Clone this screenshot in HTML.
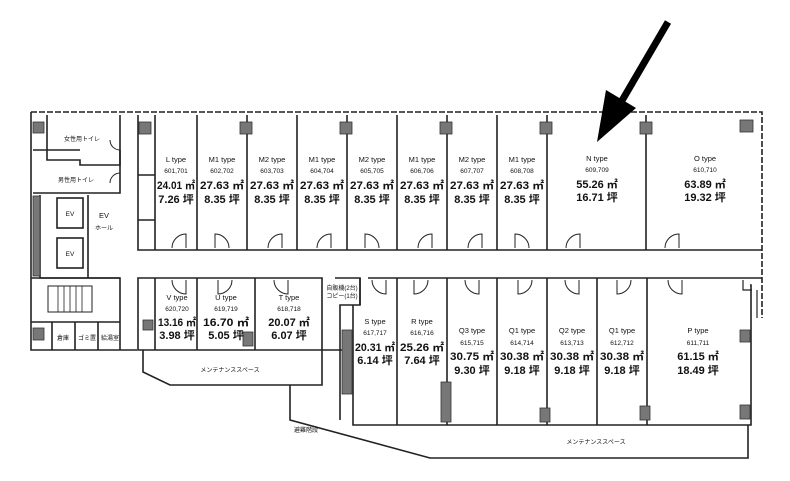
<!DOCTYPE html>
<html><head><meta charset="utf-8"><style>
html,body{margin:0;padding:0;background:#fff;width:790px;height:481px;overflow:hidden}
svg text{font-family:"Liberation Sans","Noto Sans CJK JP",sans-serif;fill:#111;text-anchor:middle}
.t{font-size:7.5px}.n{font-size:6.5px}.a{font-size:11px;font-weight:bold}.s{font-size:6px}
</style></head><body>
<svg width="790" height="481" viewBox="0 0 790 481" xmlns="http://www.w3.org/2000/svg">
<g fill="none" stroke="#222" stroke-width="1.6">
<path d="M31 112 H762 V318" stroke-dasharray="6 2"/>
<path d="M31 112 V350 H137"/>
<path d="M47 115 V160 H80 V165 H120 V115"/>
<path d="M33 150 H80 M33 193 H120 V150"/>
<path d="M40 195 V278 H120 M88 195 V278"/>
<rect x="57" y="198" width="26" height="30"/><rect x="57" y="238" width="26" height="30"/>
<path d="M31 278 H120 V350 M31 322 H120 M52 322 V350 M75 322 V350 M98 322 V350"/>
<rect x="48" y="286" width="44" height="26" stroke-width="1"/>
<path d="M58 286 V312 M64 286 V312 M70 286 V312 M76 286 V312 M82 286 V312" stroke-width="0.8"/>
<path d="M138 115 V250 H762"/>
<path d="M155 115 V250 M197 115 V250 M247 115 V250 M297 115 V250 M347 115 V250 M397 115 V250 M447 115 V250 M497 115 V250 M547 115 V250 M646 115 V250"/>
<path d="M138 175 H155 M138 220 H155"/>
<path d="M138 278 H322 V350 H138 Z"/>
<path d="M155 278 V350 M197 278 V350 M255 278 V350"/>
<path d="M143 350 V372 L170 385 H322 V350"/>
<path d="M322 350 H343 V385"/>
<path d="M290 385 V420 L430 458 H748 V425"/>
<path d="M335 278 H360 V305 H340 V420"/>
<path d="M368 278 H762 M360 278 V305 M353 305 V425 H751 V285 H750"/>
<path d="M397 278 V425 M447 278 V425 M497 278 V425 M547 278 V425 M597 278 V425 M647 278 V425"/>
<path d="M743 280 V290 H752 M757 290 V318" stroke-width="1.2"/>
</g>
<g fill="#777" stroke="#333" stroke-width="0.8">
<rect x="33" y="122" width="11" height="11"/><rect x="139" y="122" width="12" height="12"/>
<rect x="240" y="122" width="12" height="12"/><rect x="340" y="122" width="12" height="12"/>
<rect x="440" y="122" width="12" height="12"/><rect x="540" y="122" width="12" height="12"/>
<rect x="640" y="122" width="12" height="12"/><rect x="740" y="120" width="13" height="12"/>
<rect x="33" y="196" width="7" height="80"/><rect x="33" y="328" width="11" height="12"/>
<rect x="143" y="320" width="10" height="10"/><rect x="243" y="332" width="10" height="14"/>
<rect x="342" y="330" width="10" height="64"/><rect x="441" y="382" width="10" height="40"/>
<rect x="540" y="408" width="10" height="14"/><rect x="640" y="406" width="10" height="14"/>
<rect x="740" y="330" width="10" height="12"/><rect x="740" y="405" width="10" height="14"/>
</g>
<g fill="none" stroke="#222" stroke-width="1">
<path d="M172 248 A14 14 0 0 1 186 234 V248"/><path d="M215 248 V234 A14 14 0 0 1 229 248"/>
<path d="M268 248 A14 14 0 0 1 282 234 V248"/><path d="M317 248 A14 14 0 0 1 331 234 V248"/>
<path d="M365 248 V234 A14 14 0 0 1 379 248"/><path d="M418 248 A14 14 0 0 1 432 234 V248"/>
<path d="M468 248 A14 14 0 0 1 482 234 V248"/><path d="M515 248 V234 A14 14 0 0 1 529 248"/>
<path d="M566 248 A14 14 0 0 1 580 234 V248"/><path d="M665 248 A14 14 0 0 1 679 234 V248"/>
<path d="M172 280 A14 14 0 0 0 186 294 V280"/><path d="M218 280 V294 A14 14 0 0 0 232 280"/>
<path d="M274 280 A14 14 0 0 0 288 294 V280"/><path d="M372 280 A14 14 0 0 0 386 294 V280"/>
<path d="M414 280 V294 A14 14 0 0 0 428 280"/><path d="M465 280 A14 14 0 0 0 479 294 V280"/>
<path d="M518 280 V294 A14 14 0 0 0 532 280"/><path d="M565 280 A14 14 0 0 0 579 294 V280"/>
<path d="M617 280 V294 A14 14 0 0 0 631 280"/><path d="M668 280 A14 14 0 0 0 682 294 V280"/>
<path d="M110 140 A10 10 0 0 0 120 150 M110 183 A10 10 0 0 1 120 173"/>
</g>
<path d="M668 22 L620 104" stroke="#000" stroke-width="7"/>
<polygon points="597,142 606,90 636,108" fill="#000"/>
<g>
<text class="s" x="82" y="141">女性用トイレ</text><text class="s" x="76" y="182">男性用トイレ</text>
<text class="n" x="70" y="216">EV</text><text class="n" x="70" y="256">EV</text>
<text class="t" x="104" y="218">EV</text><text class="s" x="104" y="230">ホール</text>
<text class="s" x="63" y="340">倉庫</text><text class="s" x="87" y="340">ゴミ置</text><text class="s" x="110" y="340">給湯室</text>
<text class="s" x="230" y="372">メンテナンススペース</text><text class="s" x="596" y="444">メンテナンススペース</text>
<text class="s" x="342" y="290">自販機(2台)</text><text class="s" x="342" y="298">コピー(1台)</text>
<text class="s" x="306" y="432">避難階段</text>
</g>
<g>
<text class="t" x="176" y="162">L type</text><text class="n" x="176" y="173">601,701</text><text class="a" x="176" y="189" textLength="38" lengthAdjust="spacingAndGlyphs">24.01 ㎡</text><text class="a" x="176" y="203">7.26 坪</text>
<text class="t" x="222" y="162">M1 type</text><text class="n" x="222" y="173">602,702</text><text class="a" x="222" y="189" textLength="44" lengthAdjust="spacingAndGlyphs">27.63 ㎡</text><text class="a" x="222" y="203">8.35 坪</text>
<text class="t" x="272" y="162">M2 type</text><text class="n" x="272" y="173">603,703</text><text class="a" x="272" y="189" textLength="44" lengthAdjust="spacingAndGlyphs">27.63 ㎡</text><text class="a" x="272" y="203">8.35 坪</text>
<text class="t" x="322" y="162">M1 type</text><text class="n" x="322" y="173">604,704</text><text class="a" x="322" y="189" textLength="44" lengthAdjust="spacingAndGlyphs">27.63 ㎡</text><text class="a" x="322" y="203">8.35 坪</text>
<text class="t" x="372" y="162">M2 type</text><text class="n" x="372" y="173">605,705</text><text class="a" x="372" y="189" textLength="44" lengthAdjust="spacingAndGlyphs">27.63 ㎡</text><text class="a" x="372" y="203">8.35 坪</text>
<text class="t" x="422" y="162">M1 type</text><text class="n" x="422" y="173">606,706</text><text class="a" x="422" y="189" textLength="44" lengthAdjust="spacingAndGlyphs">27.63 ㎡</text><text class="a" x="422" y="203">8.35 坪</text>
<text class="t" x="472" y="162">M2 type</text><text class="n" x="472" y="173">607,707</text><text class="a" x="472" y="189" textLength="44" lengthAdjust="spacingAndGlyphs">27.63 ㎡</text><text class="a" x="472" y="203">8.35 坪</text>
<text class="t" x="522" y="162">M1 type</text><text class="n" x="522" y="173">608,708</text><text class="a" x="522" y="189" textLength="44" lengthAdjust="spacingAndGlyphs">27.63 ㎡</text><text class="a" x="522" y="203">8.35 坪</text>
<text class="t" x="597" y="161">N type</text><text class="n" x="597" y="172">609,709</text><text class="a" x="597" y="188">55.26 ㎡</text><text class="a" x="597" y="201">16.71 坪</text>
<text class="t" x="705" y="161">O type</text><text class="n" x="705" y="172">610,710</text><text class="a" x="705" y="188">63.89 ㎡</text><text class="a" x="705" y="201">19.32 坪</text>

<text class="t" x="177" y="300">V type</text><text class="n" x="177" y="311">620,720</text><text class="a" x="177" y="326" textLength="38" lengthAdjust="spacingAndGlyphs">13.16 ㎡</text><text class="a" x="177" y="339">3.98 坪</text>
<text class="t" x="226" y="300">U type</text><text class="n" x="226" y="311">619,719</text><text class="a" x="226" y="326" textLength="46" lengthAdjust="spacingAndGlyphs">16.70 ㎡</text><text class="a" x="226" y="339">5.05 坪</text>
<text class="t" x="289" y="300">T type</text><text class="n" x="289" y="311">618,718</text><text class="a" x="289" y="326">20.07 ㎡</text><text class="a" x="289" y="339">6.07 坪</text>
<text class="t" x="375" y="324">S type</text><text class="n" x="375" y="335">617,717</text><text class="a" x="375" y="351" textLength="40" lengthAdjust="spacingAndGlyphs">20.31 ㎡</text><text class="a" x="375" y="364">6.14 坪</text>
<text class="t" x="422" y="324">R type</text><text class="n" x="422" y="335">616,716</text><text class="a" x="422" y="351" textLength="44" lengthAdjust="spacingAndGlyphs">25.26 ㎡</text><text class="a" x="422" y="364">7.64 坪</text>
<text class="t" x="472" y="333">Q3 type</text><text class="n" x="472" y="345">615,715</text><text class="a" x="472" y="360" textLength="44" lengthAdjust="spacingAndGlyphs">30.75 ㎡</text><text class="a" x="472" y="374">9.30 坪</text>
<text class="t" x="522" y="333">Q1 type</text><text class="n" x="522" y="345">614,714</text><text class="a" x="522" y="360" textLength="44" lengthAdjust="spacingAndGlyphs">30.38 ㎡</text><text class="a" x="522" y="374">9.18 坪</text>
<text class="t" x="572" y="333">Q2 type</text><text class="n" x="572" y="345">613,713</text><text class="a" x="572" y="360" textLength="44" lengthAdjust="spacingAndGlyphs">30.38 ㎡</text><text class="a" x="572" y="374">9.18 坪</text>
<text class="t" x="622" y="333">Q1 type</text><text class="n" x="622" y="345">612,712</text><text class="a" x="622" y="360" textLength="44" lengthAdjust="spacingAndGlyphs">30.38 ㎡</text><text class="a" x="622" y="374">9.18 坪</text>
<text class="t" x="698" y="333">P type</text><text class="n" x="698" y="345">611,711</text><text class="a" x="698" y="360">61.15 ㎡</text><text class="a" x="698" y="374">18.49 坪</text>
</g>
</svg>
</body></html>
